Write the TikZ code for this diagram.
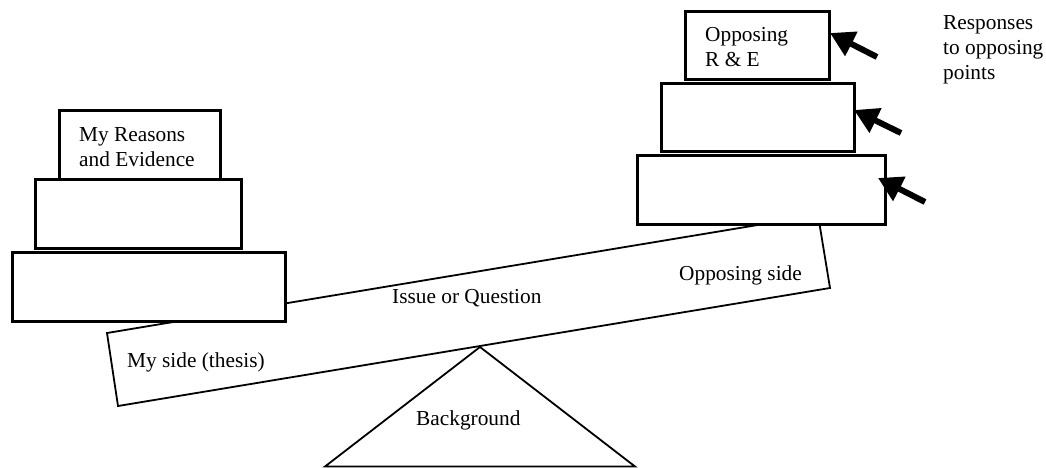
\documentclass[tikz,border=0pt]{standalone}
\usepackage{fontspec}
\setmainfont{Liberation Serif}
\usetikzlibrary{arrows.meta}
\begin{document}
\begin{tikzpicture}[x=1pt,y=-1pt,
  box/.style={draw=black, line width=2.8pt, fill=white, inner sep=0pt, anchor=north west},
  thinline/.style={draw=black, line width=1.8pt, line join=miter},
  lbl/.style={inner sep=0pt, font=\fontsize{21.33}{25}\selectfont, align=left},
  resp/.style={draw=black, line width=6pt, -{Triangle[length=24pt,width=26pt]}}]
\useasboundingbox (0,0) rectangle (1046,468);
% fulcrum and beam
\draw[thinline] (480,347) -- (325,466.5) -- (635,466.5) -- cycle;
\draw[thinline, fill=white] (107,333) -- (118,406) -- (830,288) -- (818,215) -- cycle;
% left stack
\node[box, minimum width=161pt, minimum height=69pt] (L1) at (58,109) {};
\node[box, minimum width=206pt, minimum height=69pt] (L2) at (34,178) {};
\node[box, minimum width=273pt, minimum height=69pt] (L3) at (11,251) {};
% right stack
\node[box, minimum width=144pt, minimum height=68pt] (R1) at (684,10) {};
\node[box, minimum width=193pt, minimum height=68pt] (R2) at (660,82) {};
\node[box, minimum width=248pt, minimum height=69pt] (R3) at (636,154) {};
% labels
\node[lbl, anchor=north west] (myre) at (79,127) {My Reasons\\and Evidence};
\node[lbl, anchor=north west] (oppre) at (705,27) {Opposing\\R \& E};
\node[lbl, anchor=north west] (resptext) at (943,15) {Responses\\to opposing\\points};
\node[lbl, anchor=base west] (issue) at (392,303) {Issue or Question};
\node[lbl, anchor=base west] (oppside) at (679,280) {Opposing side};
\node[lbl, anchor=base west] (myside) at (127,367) {My side (thesis)};
\node[lbl, anchor=base west] (bg) at (416,425) {Background};
% arrows
\coordinate (t1) at (877,57);  \coordinate (h1) at (830,33);
\coordinate (t2) at (901,133); \coordinate (h2) at (854,110);
\coordinate (t3) at (925,202); \coordinate (h3) at (878,178);
\draw[resp] (t1) -- (h1);
\draw[resp] (t2) -- (h2);
\draw[resp] (t3) -- (h3);
\end{tikzpicture}
\end{document}
